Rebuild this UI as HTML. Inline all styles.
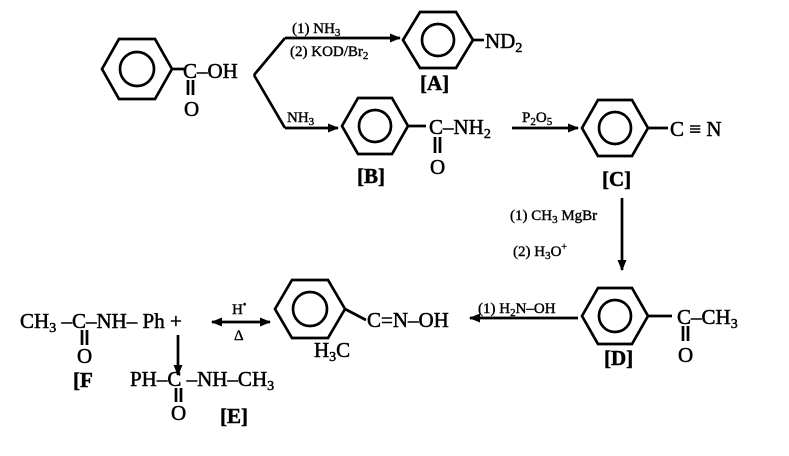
<!DOCTYPE html>
<html><head><meta charset="utf-8"><style>
html,body{margin:0;padding:0;background:#fff;}
svg{display:block;font-family:"Liberation Serif",serif;}
</style></head><body>
<svg width="789" height="456" viewBox="0 0 789 456" xmlns="http://www.w3.org/2000/svg">
<defs>
<marker id="ah" markerWidth="11" markerHeight="9" refX="10" refY="4.5" orient="auto" markerUnits="userSpaceOnUse"><path d="M0,0 L11,4.5 L0,9 z" fill="#000"/></marker>
<marker id="ahs" markerWidth="11" markerHeight="9" refX="1" refY="4.5" orient="auto" markerUnits="userSpaceOnUse"><path d="M11,0 L0,4.5 L11,9 z" fill="#000"/></marker>
</defs>
<g fill="none" stroke="#000" stroke-width="2.7">
<polygon points="102,69 119,39 155,39 172,69 155,99 119,99"/><circle cx="137" cy="69" r="17"/>
<line x1="172" y1="69" x2="186" y2="69"/>
<polygon points="403,40 420,12 456,12 473,40 456,68 420,68"/><circle cx="438" cy="40" r="16"/>
<line x1="473" y1="40" x2="484" y2="40"/>
<polygon points="342,126 358,98 392,98 408,126 392,154 358,154"/><circle cx="375" cy="126" r="16"/>
<line x1="408" y1="126" x2="426" y2="126"/>
<polygon points="582,128 598,100 632,100 648,128 632,156 598,156"/><circle cx="615" cy="128" r="16"/>
<line x1="648" y1="128" x2="668" y2="128"/>
<polygon points="582,316 598,288 632,288 648,316 632,344 598,344"/><circle cx="615" cy="316" r="16"/>
<line x1="648" y1="316" x2="672" y2="316"/>
<polygon points="275,309 292,280 328,280 345,309 328,338 292,338"/><circle cx="310" cy="309" r="17"/>
<line x1="345" y1="309" x2="366" y2="320"/>
<polyline points="254,75 285,38"/>
<polyline points="254,75 285,128"/>
<line x1="285" y1="38" x2="400" y2="38" marker-end="url(#ah)"/>
<line x1="285" y1="128" x2="338" y2="128" marker-end="url(#ah)"/>
<line x1="512" y1="128" x2="578" y2="128" marker-end="url(#ah)"/>
<line x1="622" y1="198" x2="622" y2="270" marker-end="url(#ah)"/>
<line x1="578" y1="318" x2="470" y2="318" marker-end="url(#ah)"/>
<line x1="212" y1="322" x2="270" y2="322" marker-end="url(#ah)" marker-start="url(#ahs)"/>
<line x1="178" y1="335" x2="178" y2="375" marker-end="url(#ah)"/>
<line x1="188" y1="80" x2="188" y2="95"/><line x1="193" y1="80" x2="193" y2="95"/>
<line x1="435" y1="137" x2="435" y2="153"/><line x1="440" y1="137" x2="440" y2="153"/>
<line x1="683" y1="326" x2="683" y2="341"/><line x1="688" y1="326" x2="688" y2="341"/>
<line x1="82" y1="330" x2="82" y2="345"/><line x1="87" y1="330" x2="87" y2="345"/>
<line x1="176" y1="388" x2="176" y2="402"/><line x1="181" y1="388" x2="181" y2="402"/>
</g>
<g font-size="21" fill="#000" stroke="#000" stroke-width="0.5">
<text x="183" y="78">C–OH</text>
<text x="184" y="116">O</text>
<text x="485" y="48">ND<tspan font-size="14" dy="4">2</tspan></text>
<text x="420" y="90" font-weight="bold">[A]</text>
<text x="429" y="134">C–NH<tspan font-size="14" dy="4">2</tspan></text>
<text x="430" y="174">O</text>
<text x="357" y="183" font-weight="bold">[B]</text>
<text x="670" y="136">C ≡ N</text>
<text x="602" y="186" font-weight="bold">[C]</text>
<text x="677" y="324">C–CH<tspan font-size="14" dy="4">3</tspan></text>
<text x="678" y="362">O</text>
<text x="604" y="365" font-weight="bold">[D]</text>
<text x="367" y="327">C=N–OH</text>
<text x="314" y="357">H<tspan font-size="14" dy="4">3</tspan><tspan dy="-4">C</tspan></text>
<text x="20" y="328">CH<tspan font-size="14" dy="4">3</tspan><tspan dy="-4"> –C–NH– Ph +</tspan></text>
<text x="77" y="363">O</text>
<text x="73" y="387" font-weight="bold">[F</text>
<text x="130" y="386">PH–C –NH–CH<tspan font-size="14" dy="4">3</tspan></text>
<text x="171" y="420">O</text>
<text x="220" y="423" font-weight="bold">[E]</text>
</g>
<g font-size="15" fill="#000" stroke="#000" stroke-width="0.4">
<text x="292" y="33">(1) NH<tspan font-size="11" dy="3">3</tspan></text>
<text x="290" y="56">(2) KOD/Br<tspan font-size="11" dy="3">2</tspan></text>
<text x="287" y="122">NH<tspan font-size="11" dy="3">3</tspan></text>
<text x="522" y="122">P<tspan font-size="11" dy="3">2</tspan><tspan dy="-3">O</tspan><tspan font-size="11" dy="3">5</tspan></text>
<text x="510" y="220">(1) CH<tspan font-size="11" dy="3">3</tspan><tspan dy="-3"> MgBr</tspan></text>
<text x="513" y="256">(2) H<tspan font-size="11" dy="3">3</tspan><tspan dy="-3">O</tspan><tspan font-size="10" dy="-6">+</tspan></text>
<text x="478" y="313">(1) H<tspan font-size="11" dy="3">2</tspan><tspan dy="-3">N–OH</tspan></text>
<text x="232" y="314">H<tspan font-size="10" dy="-6">•</tspan></text>
<text x="234" y="340">Δ</text>
</g>
</svg>
</body></html>
